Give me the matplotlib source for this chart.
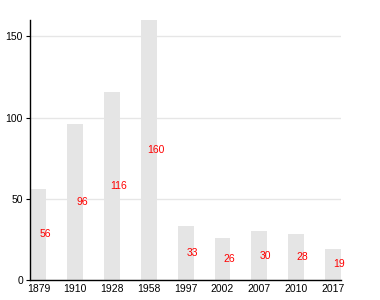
import matplotlib
matplotlib.use("Agg")
from matplotlib import pyplot as plt
import numpy as np

plt.rcParams['font.family'] = ['Liberation Sans', 'DejaVu Sans']

years = ["1879", "1910", "1928", "1958", "1997", "2002", "2007", "2010", "2017"]
values = [56, 96, 116, 160, 33, 26, 30, 28, 19]

fig = plt.figure(figsize=(3.8, 3.0), dpi=100)
ax = fig.add_axes([0.079, 0.067, 0.818, 0.866])

x = np.arange(len(years))
ax.bar(x, values, width=0.43, color="#e5e5e5", zorder=2)

for xi, v in zip(x, values):
    ax.text(xi + 0.18, v / 2, str(v), color="red", fontsize=7.5,
            ha="center", va="center", zorder=3)

ax.set_xlim(-0.23, 8.22)
ax.set_ylim(0, 160)
ax.set_xticks(x)
ax.set_xticklabels(years)
ax.set_yticks([0, 50, 100, 150])
ax.yaxis.grid(True, color="#e6e6e6", linewidth=1, zorder=0)
ax.set_axisbelow(True)

for s in ["top", "right"]:
    ax.spines[s].set_visible(False)
ax.spines["left"].set_linewidth(1)
ax.spines["bottom"].set_linewidth(1)
ax.tick_params(axis="x", length=0, labelsize=7.5, pad=3)
ax.tick_params(axis="y", length=3, labelsize=7.5, pad=2)

fig.savefig("out.png", dpi=100)
